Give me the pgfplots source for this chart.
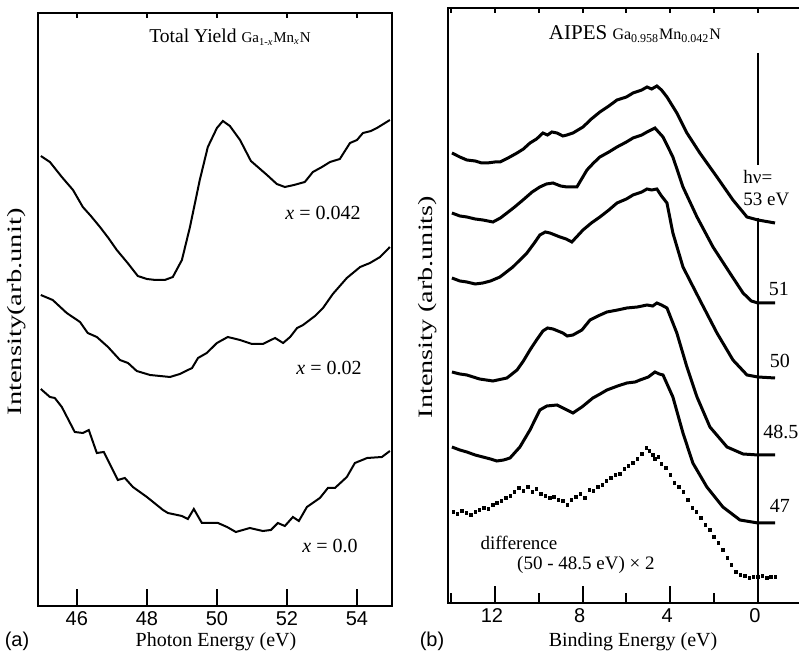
\documentclass[border=0pt]{standalone}
\usepackage{fontspec}
\setmainfont{Liberation Serif}
\newfontfamily\sansf{Liberation Sans}
\usepackage{pgfplots}
\pgfplotsset{compat=1.18}
\begin{document}
\begin{tikzpicture}
\useasboundingbox (0,0) rectangle (399.5pt,329pt);
% ---------------- left panel (a) ----------------
\begin{axis}[at={(19pt,26pt)}, anchor=south west, scale only axis,
  width=177pt, height=296.5pt,
  xmin=44.89, xmax=55.0, ymin=52, ymax=645,
  xtick={46,48,50,52,54}, ytick=\empty, xtick pos=left,
  tick align=inside, major tick length=8.5pt,
  tick style={line width=1pt,black},
  axis line style={line width=1.3pt},
  ticklabel style={font=\sansf\fontsize{10}{12}\selectfont},
  xticklabel style={inner sep=0.5pt, yshift=-2pt},
  /pgf/number format/assume math mode=true,
  cycle list={{black, no marks}},
  every axis plot/.append style={line width=1pt},
  clip=false]
% x = 0.042
\addplot coordinates {(44.97,502) (45.23,496) (45.57,481) (45.89,468) (46.17,451) (46.4,442) (46.66,431) (46.9,420) (47.14,408) (47.45,395) (47.74,382) (48.0,379) (48.25,378) (48.51,378) (48.74,381) (49.0,398) (49.23,431) (49.51,478) (49.74,511) (50.0,530) (50.17,537) (50.37,532) (50.66,518) (50.97,497) (51.2,490) (51.43,483) (51.71,474) (51.94,471) (52.2,473) (52.51,476) (52.74,486) (53.0,491) (53.23,496) (53.51,499) (53.8,515) (54.0,518) (54.17,525) (54.4,527) (54.57,530) (54.94,538)};
% x = 0.02
\addplot coordinates {(44.97,363) (45.31,358) (45.71,345) (46.09,336) (46.31,325) (46.57,321) (46.89,311) (47.23,298) (47.46,295) (47.71,287) (48.09,283) (48.66,281) (48.94,284) (49.29,290) (49.46,300) (49.71,305) (50.0,315) (50.31,321) (50.66,318) (51.0,314) (51.31,314) (51.66,320) (51.89,315) (52.09,321) (52.29,330) (52.46,333) (52.8,342) (53.03,350) (53.31,364) (53.71,380) (54.09,391) (54.37,395) (54.66,401) (54.94,411)};
% x = 0.0
\addplot coordinates {(44.97,269) (45.23,261) (45.37,260) (45.57,251) (45.94,226) (46.17,225) (46.34,228) (46.57,205) (46.77,206) (47.17,178) (47.37,180) (47.6,171) (48.0,161) (48.46,148) (48.6,145) (49.0,142) (49.17,139) (49.34,149) (49.57,135) (50.03,135) (50.29,131) (50.54,126) (50.94,130) (51.31,127) (51.54,128) (51.74,135) (51.94,132) (52.17,141) (52.34,137) (52.57,151) (52.94,160) (53.17,170) (53.37,170) (53.71,181) (53.94,195) (54.29,200) (54.71,201) (54.94,207)};
\node[font=\fontsize{10}{12}\selectfont] at (axis cs:53.03,445) {\textit{x} = 0.042};
\node[font=\fontsize{10}{12}\selectfont] at (axis cs:53.2,290) {\textit{x} = 0.02};
\node[font=\fontsize{10}{12}\selectfont] at (axis cs:53.23,112) {\textit{x} = 0.0};
\end{axis}
% top ticks of (a)
\begin{axis}[at={(19pt,26pt)}, anchor=south west, scale only axis,
  width=177pt, height=296.5pt,
  xmin=44.89, xmax=55.0, ymin=52, ymax=645,
  xtick={46,48,50,52,54}, xticklabels={}, ytick=\empty, xtick pos=right,
  tick align=inside, major tick length=2.5pt,
  tick style={line width=1pt,black},
  axis line style={line width=1.3pt}]
\end{axis}
% ---------------- right panel (b) ----------------
\begin{axis}[at={(224pt,27.5pt)}, anchor=south west, scale only axis,
  width=177pt, height=297.5pt,
  xmin=-2.01, xmax=14.14, x dir=reverse, ymin=55, ymax=650,
  xtick={0,4,8,12}, minor xtick={2,6,10,14}, ytick=\empty, xtick pos=left,
  tick align=inside, major tick length=8.5pt, minor tick length=5pt,
  tick style={line width=1pt,black},
  axis line style={line width=1.3pt},
  ticklabel style={font=\sansf\fontsize{10}{12}\selectfont},
  xticklabel style={inner sep=0.5pt, yshift=-2pt, xshift=-1.5pt},
  /pgf/number format/assume math mode=true,
  cycle list={{black, no marks}},
  every axis plot/.append style={line width=1.5pt},
  clip=false]
% 53 eV
\addplot coordinates {(13.96,505) (13.6,501) (13.28,498) (12.9,497) (12.6,495) (12.36,495) (12.0,496) (11.77,496) (11.4,500) (10.99,505) (10.7,509) (10.40,515) (10.1,519) (9.81,525) (9.6,523) (9.4,526) (9.17,525) (8.9,522) (8.71,523) (8.44,525) (7.98,531) (7.6,539) (7.21,546) (6.8,552) (6.43,558) (6.0,561) (5.70,565) (5.3,568) (5.06,571) (4.85,569) (4.61,572) (4.4,568) (4.15,561) (3.70,545) (3.24,525) (2.65,505) (1.87,481) (1.14,458) (0.50,441) (0,438) (-0.78,435)};
% 51 eV
\addplot coordinates {(13.96,445) (13.6,442) (13.28,441) (12.9,439) (12.55,438) (12.09,436) (11.75,440) (11.45,445) (11.1,451) (10.72,458) (10.3,466) (9.95,471) (9.65,474) (9.35,475) (9.0,472) (8.71,471) (8.26,471) (7.80,488) (7.5,495) (7.21,501) (6.8,506) (6.43,511) (6.0,516) (5.70,520) (5.3,523) (5.06,526) (4.70,530) (4.33,521) (3.88,501) (3.42,471) (2.78,441) (2.05,411) (1.28,385) (0.68,365) (0.3,357) (0,355) (-0.78,355)};
% 50 eV
\addplot coordinates {(13.96,380) (13.6,377) (13.28,376) (12.9,374) (12.55,375) (12.2,377) (11.77,381) (11.18,391) (10.54,405) (10.2,415) (9.95,423) (9.7,426) (9.49,425) (9.03,421) (8.75,419) (8.49,416) (7.98,428) (7.6,435) (7.21,441) (6.8,448) (6.43,455) (6.0,459) (5.70,463) (5.3,466) (5.06,469) (4.85,468) (4.61,469) (4.4,462) (4.15,455) (3.88,425) (3.42,391) (2.65,358) (1.87,325) (1.14,298) (0.50,283) (0,281) (-0.78,280)};
% 48.5 eV
\addplot coordinates {(13.96,286) (13.6,284) (13.28,283) (12.7,279) (12.09,277) (11.45,280) (10.99,288) (10.7,297) (10.40,308) (10.1,318) (9.81,327) (9.6,330) (9.35,329) (8.90,325) (8.7,322) (8.44,323) (8.03,328) (7.66,338) (7.3,342) (6.89,346) (6.4,348) (5.98,350) (5.5,351) (5.06,353) (4.8,352) (4.61,355) (4.4,353) (4.15,350) (3.70,325) (3.24,291) (2.78,261) (2.19,231) (1.41,211) (0.68,204) (0,203) (-0.78,203)};
% 47 eV
\addplot coordinates {(13.96,211) (13.6,208) (13.28,206) (12.9,203) (12.55,201) (12.2,199) (11.91,197) (11.6,198) (11.31,200) (10.86,211) (10.40,228) (9.95,248) (9.63,252) (9.17,253) (8.71,248) (8.44,245) (8.03,251) (7.53,260) (7.2,264) (6.89,268) (6.4,272) (5.98,275) (5.6,276) (5.38,278) (5.0,281) (4.70,286) (4.5,284) (4.33,283) (3.88,261) (3.42,225) (2.97,195) (2.33,171) (1.60,151) (0.82,138) (0,135) (-0.78,135)};
% difference
\addplot[black, only marks, mark=square*, mark size=0.6pt, line width=0.4pt] coordinates {(13.9,146) (13.7,144) (13.5,147) (13.3,145) (13.1,143) (12.9,146) (12.7,148) (12.5,150) (12.3,149) (12.1,153) (11.9,155) (11.7,157) (11.5,160) (11.3,162) (11.1,166) (10.9,170) (10.7,167) (10.5,171) (10.3,166) (10.1,169) (9.9,164) (9.7,162) (9.5,160) (9.3,161) (9.1,158) (8.9,157) (8.7,153) (8.5,158) (8.3,161) (8.1,164) (7.9,160) (7.7,168) (7.5,167) (7.3,171) (7.1,173) (6.9,177) (6.7,180) (6.5,183) (6.3,184) (6.1,189) (5.9,192) (5.7,195) (5.5,199) (5.3,204) (5.1,210) (4.95,207) (4.8,203) (4.7,199) (4.55,201) (4.4,194) (4.2,190) (4.0,183) (3.8,175) (3.6,171) (3.4,166) (3.2,158) (3.0,150) (2.8,146) (2.6,140) (2.4,133) (2.2,128) (2.0,121) (1.8,115) (1.6,108) (1.4,100) (1.2,93) (1.0,86) (0.8,83) (0.6,82) (0.4,80) (0.2,81) (0,81) (-0.2,82) (-0.4,80) (-0.6,81) (-0.8,81)};
% vertical reference line at 0
\addplot[black, line width=1pt] coordinates {(0,605) (0,493)};
\addplot[black, line width=1pt] coordinates {(0,440) (0,55)};
\draw[line width=1.3pt] (rel axis cs:0,1) -- (rel axis cs:1,1);
\node[font=\fontsize{9.5}{11}\selectfont, align=left, anchor=west, inner sep=0pt] at (axis cs:0.68,470) {hν=\\53 eV};
\node[font=\fontsize{10}{12}\selectfont] at (axis cs:-0.96,369) {51};
\node[font=\fontsize{10}{12}\selectfont] at (axis cs:-1.0,297) {50};
\node[font=\fontsize{10}{12}\selectfont] at (axis cs:-1.05,226) {48.5};
\node[font=\fontsize{10}{12}\selectfont] at (axis cs:-1.0,152) {47};
\node[font=\fontsize{9.5}{11}\selectfont] at (axis cs:10.9,115) {difference};
\node[font=\fontsize{9.5}{11}\selectfont] at (axis cs:7.85,93) {(50 - 48.5 eV) × 2};
\end{axis}
% top ticks of (b)
\begin{axis}[at={(224pt,27.5pt)}, anchor=south west, scale only axis,
  width=177pt, height=297.5pt,
  xmin=-2.01, xmax=14.14, x dir=reverse, ymin=55, ymax=650,
  xtick={0,2,4,6,8,10,12,14}, xticklabels={}, ytick=\empty, xtick pos=right,
  tick align=inside, major tick length=2.5pt,
  tick style={line width=1pt,black},
  axis line style={line width=1.3pt}]
\end{axis}
% ---------------- outer texts ----------------
\node[font=\sansf\fontsize{10}{12}\selectfont, anchor=base, inner sep=0pt] at (8.5pt,5.5pt) {(a)};
\node[font=\fontsize{10}{12}\selectfont, anchor=base, inner sep=0pt] at (108pt,5.5pt) {Photon Energy (eV)};
\node[font=\sansf\fontsize{10}{12}\selectfont, anchor=base, inner sep=0pt] at (216pt,5.5pt) {(b)};
\node[font=\fontsize{10}{12}\selectfont, anchor=base, inner sep=0pt] at (316.5pt,5.5pt) {Binding Energy (eV)};
\node[font=\fontsize{10.2}{12}\selectfont, rotate=90, xscale=1.4] at (8.5pt,173pt) {Intensity(arb.unit)};
\node[font=\fontsize{10.2}{12}\selectfont, rotate=90, xscale=1.38] at (214pt,175.5pt) {Intensity (arb.units)};
\node[anchor=base, inner sep=0pt] at (115pt,307.5pt) {\fontsize{9.8}{11}\selectfont Total Yield {\fontsize{7.5}{8}\selectfont Ga\textsubscript{1-\textit{x}}Mn\textsubscript{\textit{x}}N}};
\node[anchor=base, inner sep=0pt] at (317.5pt,309pt) {\fontsize{10.5}{12}\selectfont AIPES {\fontsize{8}{9}\selectfont Ga\textsubscript{0.958}Mn\textsubscript{0.042}N}};
\end{tikzpicture}
\end{document}
